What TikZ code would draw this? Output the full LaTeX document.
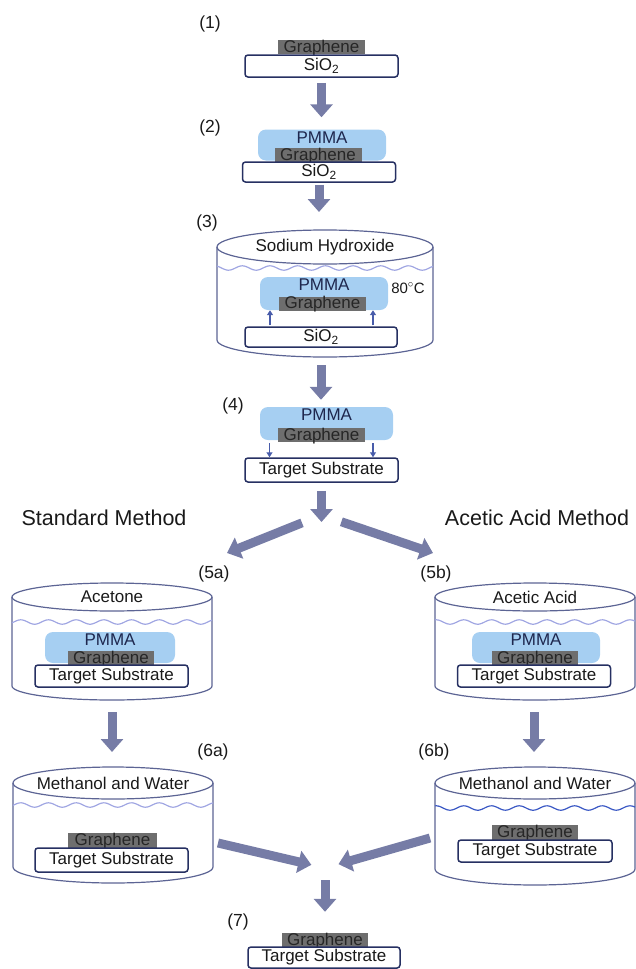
\documentclass[tikz,border=0pt]{standalone}
\usepackage{fontspec}
\setmainfont{Liberation Sans}
\usetikzlibrary{arrows.meta}

\definecolor{boxline}{RGB}{38,48,98}
\definecolor{graphene}{RGB}{110,110,110}
\definecolor{pmmablue}{RGB}{166,207,242}
\definecolor{flowcol}{RGB}{118,124,166}
\definecolor{vesselcol}{RGB}{92,100,148}
\definecolor{wavelight}{RGB}{160,166,226}
\definecolor{wavedark}{RGB}{58,88,196}
\definecolor{liftcol}{RGB}{72,92,170}

\tikzset{
  every node/.style={font=\fontsize{17}{18}\selectfont, text=black!90},
  sub/.style={draw=boxline, line width=1.5pt, rounded corners=3pt, fill=white, inner sep=0pt, minimum width=153pt, minimum height=22pt},
  gra/.style={fill=graphene, inner sep=0pt, minimum width=87pt, minimum height=14pt, text height=10pt, text depth=0pt, text=black!85},
  pmma/.style={fill=pmmablue, rounded corners=8pt, inner sep=0pt, minimum width=128pt, minimum height=31pt, label={[anchor=north,inner sep=2pt,text=boxline!80!black]north:PMMA}},
  tag/.style={font=\fontsize{17.5}{19}\selectfont},
  head/.style={font=\fontsize{21.5}{24}\selectfont},
  liquid/.style={inner sep=0pt},
  vessel/.style={draw=vesselcol, line width=1.2pt},
  wave/.style={line width=1.2pt},
  flow/.style={draw=flowcol, line width=9pt, -{Triangle[width=22pt,length=13pt]}},
  lift/.style={draw=liftcol, line width=1.8pt, -{Triangle[width=6pt,length=5pt]}}
}

% beaker: name, cx, top cy, bottom cy, rx, ry, wave y, liquid, wave colour
\newcommand{\beaker}[9]{%
  \pgfmathsetmacro{\wl}{#2-#5}\pgfmathsetmacro{\wr}{#2+#5}
  \draw[vessel] (#2,#3) ellipse [x radius=#5, y radius=#6];
  \draw[vessel] (\wl,#3) -- (\wl,#4) arc [start angle=180, end angle=0, x radius=#5, y radius=#6] -- (\wr,#3);
  \draw[wave, draw=#9] plot [domain=\wl:\wr, samples=120] (\x,{#7+2.2*sin(13*\x)});
  \node[liquid] (#1) at (#2,#3) {#8};
  \coordinate (#1top) at (#2,#3-#6);
  \coordinate (#1bot) at (#2,#4+#6);
}

\begin{document}
\begin{tikzpicture}[x=1pt,y=1pt,yscale=-1]
\useasboundingbox (0,0) rectangle (636,969);

% (1)
\node[tag] (n1) at (210,24) {(1)};
\node[gra] (g1) at (321.5,47) {Graphene};
\node[sub] (s1) at (321.5,66) {SiO\textsubscript{2}};

% (2)
\node[tag] (n2) at (210,128) {(2)};
\node[pmma] (p2) at (322,145) {};
\node[gra] (g2) at (318,155) {Graphene};
\node[sub, minimum height=20pt] (s2) at (319,172) {SiO\textsubscript{2}};

% (3)
\node[tag] (n3) at (207,223) {(3)};
\beaker{b3}{325}{247}{340}{108}{17}{268}{Sodium Hydroxide}{wavelight}
\node[pmma, minimum height=33pt] (p3) at (324,293.5) {};
\node[gra] (g3) at (322.5,303.5) {Graphene};
\node[sub, minimum width=152pt, minimum height=20pt] (s3) at (321,337) {SiO\textsubscript{2}};
\node[font=\fontsize{15}{17}\selectfont] (deg) at (408,288) {80\textsuperscript{$\circ$}C};
\coordinate (l3a) at ([xshift=-51pt]s3.north);
\coordinate (l3b) at ([xshift=52pt]s3.north);
\draw[lift, shorten <=1pt] (l3a) -- (l3a |- p3.south);
\draw[lift, shorten <=1pt] (l3b) -- (l3b |- p3.south);

% (4)
\node[tag] (n4) at (233,406) {(4)};
\node[pmma, minimum width=133pt, minimum height=33pt] (p4) at (326.5,423.5) {};
\node[gra] (g4) at (321.5,435) {Graphene};
\node[sub, minimum height=24pt] (t4) at (321.5,470) {Target Substrate};
\coordinate (l4a) at ([xshift=-57pt]p4.south);
\coordinate (l4b) at ([xshift=46.5pt]p4.south);
\draw[lift, shorten <=3pt] (l4a) -- (l4a |- t4.north);
\draw[lift, shorten <=3pt] (l4b) -- (l4b |- t4.north);

% methods
\node[head] (std) at (104,518) {Standard Method};
\node[head] (aam) at (537,518) {Acetic Acid Method};

% (5a)
\node[tag] (n5a) at (214,574) {(5a)};
\beaker{b5a}{112}{597}{686}{100}{14}{622}{Acetone}{wavelight}
\node[pmma, minimum width=130pt] (p5a) at (110,647.5) {};
\node[gra, minimum width=86pt] (g5a) at (111,658) {Graphene};
\node[sub] (t5a) at (111.5,676) {Target Substrate};

% (5b)
\node[tag] (n5b) at (436,574) {(5b)};
\beaker{b5b}{535}{597}{686}{100}{14}{622}{Acetic Acid}{wavelight}
\node[pmma] (p5b) at (536,647.5) {};
\node[gra, minimum width=86pt] (g5b) at (535,658) {Graphene};
\node[sub] (t5b) at (534,676) {Target Substrate};

% (6a)
\node[tag] (n6a) at (213,752) {(6a)};
\beaker{b6a}{113}{783}{867}{100}{16}{805}{Methanol and Water}{wavelight}
\node[gra, minimum width=89pt, minimum height=15pt] (g6a) at (112.5,840.5) {Graphene};
\node[sub, minimum height=24pt] (t6a) at (111.5,860) {Target Substrate};

% (6b)
\node[tag] (n6b) at (434,752) {(6b)};
\beaker{b6b}{535}{783}{869}{100}{16}{808}{Methanol and Water}{wavedark}
\node[gra, minimum width=86pt, minimum height=15pt] (g6b) at (535,832.5) {Graphene};
\node[sub, minimum width=154pt] (t6b) at (535,851) {Target Substrate};

% (7)
\node[tag] (n7) at (238,922) {(7)};
\node[gra, minimum width=86pt] (g7) at (325,940) {Graphene};
\node[sub, minimum width=152pt, minimum height=21pt] (t7) at (324,957.5) {Target Substrate};

% flow arrows
\coordinate (fork) at (321.5,515);
\coordinate (in5a) at (227,553);
\coordinate (in5b) at (433,553);
\coordinate (out6a) at (218,843);
\coordinate (out6b) at (430,838);
\coordinate (join) at (325,868);
\draw[flow, shorten <=5pt, shorten >=12pt] (s1.south) -- (s1.south |- p2.north);
\draw[flow, shorten <=2pt, shorten >=18pt] (s2.south) -- (s2.south |- b3top);
\draw[flow, shorten <=8pt, shorten >=7pt] (b3bot -| s3) -- (s3 |- p4.north);
\draw[flow, shorten <=8pt, shorten >=-7pt] (t4.south) -- (fork);
\draw[flow, shorten <=21pt] (fork) -- (in5a);
\draw[flow, shorten <=21pt] (fork) -- (in5b);
\draw[flow, shorten <=12pt, shorten >=15pt] (b5abot) -- (b5abot |- b6atop);
\draw[flow, shorten <=12pt, shorten >=15pt] (b5bbot -| t5b) -- (t5b |- b6btop);
\draw[flow, shorten >=14pt] (out6a) -- (join);
\draw[flow, shorten >=14pt] (out6b) -- (join);
\draw[flow, shorten <=12pt, shorten >=21pt] (join) -- (join |- g7.north);
\end{tikzpicture}
\end{document}
